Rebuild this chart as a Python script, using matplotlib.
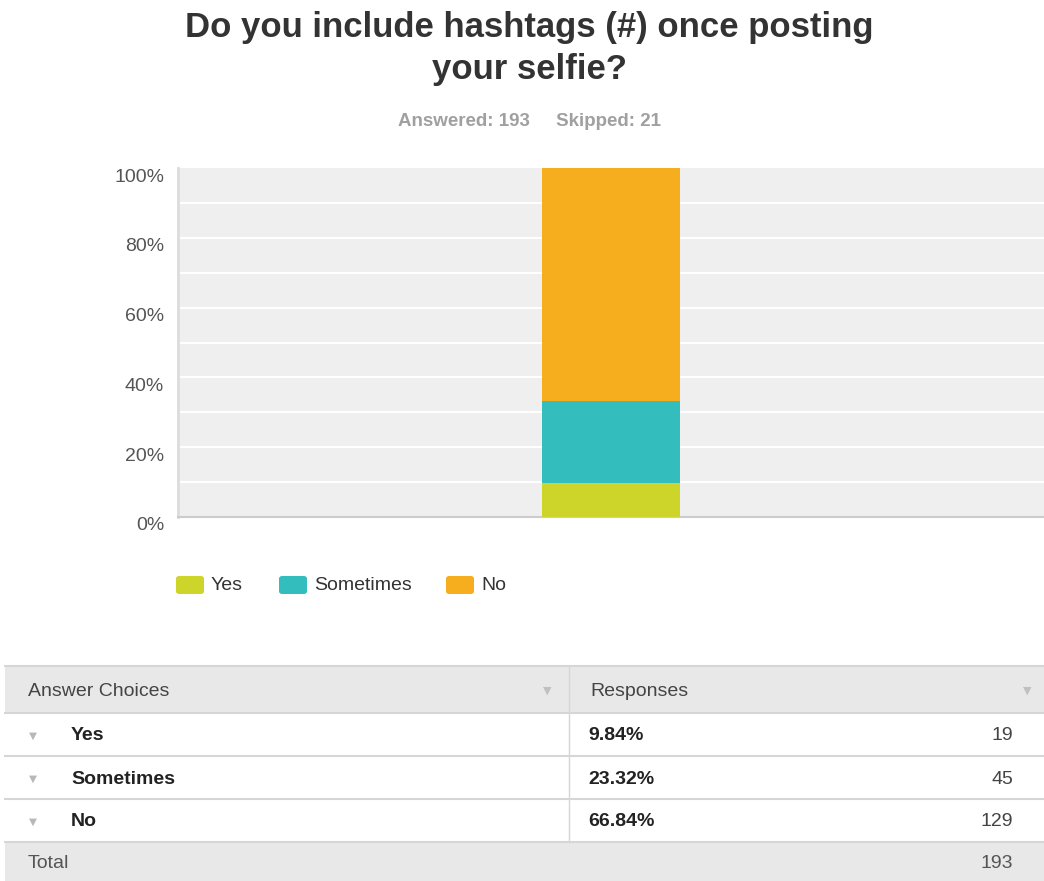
import numpy as np
import matplotlib
matplotlib.use("Agg")
import matplotlib.pyplot as plt
import matplotlib.transforms as mtransforms
from matplotlib.patches import Rectangle, FancyBboxPatch

# Survey results
choices = ["Yes", "Sometimes", "No"]
percents = [9.84, 23.32, 66.84]
counts = [19, 45, 129]
answered = 193
skipped = 21
colors = ["#cdd42a", "#33bdbd", "#f6ae1f"]
yticks = [0, 20, 40, 60, 80, 100]

W, H = 1044, 881
plt.rcParams['font.family'] = ['Liberation Sans', 'DejaVu Sans']
fig = plt.figure(figsize=(W / 100, H / 100), dpi=100)


def fx(x):
    return x / W


def fy(y):
    return 1 - y / H


# Title and summary
fig.text(fx(529), fy(27), "Do you include hashtags (#) once posting", ha="center", va="center",
         fontsize=25, fontweight="bold", color="#333333")
fig.text(fx(529), fy(70), "your selfie?", ha="center", va="center",
         fontsize=25, fontweight="bold", color="#333333")
fig.text(fx(529), fy(122), f"Answered: {answered}     Skipped: {skipped}", ha="center", va="center",
         fontsize=13.5, fontweight="bold", color="#a0a0a0")

# Stacked bar chart
ax = fig.add_axes([fx(178), fy(517), fx(1044) - fx(178), fy(168) - fy(517)])
ax.set_facecolor("#efefef")
bottom = 0
for p, c in zip(percents, colors):
    ax.bar(0.5, p, width=0.16, bottom=bottom, color=c, zorder=3)
    bottom += p
ax.set_xlim(0, 1)
ax.set_ylim(0, 100)
for g in np.arange(10, 100, 10):
    ax.axhline(g, color="white", lw=1.5, zorder=1)
ax.set_yticks(yticks)
ax.set_yticklabels([f"{t}%" for t in yticks])
ax.tick_params(axis="y", length=0, pad=10, labelsize=14, labelcolor="#555555")
ax.set_xticks([])
for s in ["top", "right"]:
    ax.spines[s].set_visible(False)
ax.spines["left"].set_color("#dcdcdc")
ax.spines["left"].set_linewidth(2)
ax.spines["bottom"].set_color("#cccccc")
ax.spines["bottom"].set_linewidth(1.5)
# tick labels sit a little below their gridlines
shift = mtransforms.ScaledTranslation(0, -7 / 100, fig.dpi_scale_trans)
for lbl in ax.get_yticklabels():
    lbl.set_transform(lbl.get_transform() + shift)

# Legend
leg_x = [175, 278, 445]
for x0, name, c in zip(leg_x, choices, colors):
    fig.patches.append(FancyBboxPatch((fx(x0 + 1), fy(594)), fx(28), fy(576) - fy(594),
                                      boxstyle="round,pad=0,rounding_size=0.003",
                                      transform=fig.transFigure, facecolor=c, edgecolor="none"))
    fig.text(fx(x0 + 36), fy(586), name, ha="left", va="center", fontsize=14, color="#333333")

# Table
left, mid, right = 5, 569, 1044
rows = [666, 713, 756, 799, 842, 881]


def rect(y0, y1, fc):
    fig.patches.append(Rectangle((fx(left), fy(y1)), fx(right) - fx(left), fy(y0) - fy(y1),
                                 transform=fig.transFigure, facecolor=fc, edgecolor="none"))


def hline(y, c="#d6d6d6", lw=1.5):
    fig.add_artist(plt.Line2D([fx(left), fx(right)], [fy(y), fy(y)], color=c, lw=lw))


rect(rows[0], rows[1], "#e8e8e8")
rect(rows[4], rows[5], "#e8e8e8")
for y in rows[:5]:
    hline(y)
fig.add_artist(plt.Line2D([fx(mid), fx(mid)], [fy(rows[0]), fy(rows[4])], color="#d6d6d6", lw=1))

fs = 14
fig.text(fx(28), fy(692), "Answer Choices", ha="left", va="center", fontsize=fs, color="#444444")
fig.text(fx(590), fy(692), "Responses", ha="left", va="center", fontsize=fs, color="#444444")
fig.text(fx(547), fy(691), "▼", ha="center", va="center", fontsize=8, color="#c0c0c0",
         family=["DejaVu Sans"])
fig.text(fx(1027), fy(691), "▼", ha="center", va="center", fontsize=8, color="#c0c0c0",
         family=["DejaVu Sans"])

for i, (name, p, n) in enumerate(zip(choices, percents, counts)):
    yc = (rows[i + 1] + rows[i + 2]) / 2 + 1.5
    fig.text(fx(33), fy(yc), "▼", ha="center", va="center", fontsize=7.5, color="#b8b8b8",
             family=["DejaVu Sans"])
    fig.text(fx(71), fy(yc), name, ha="left", va="center", fontsize=fs,
             fontweight="bold", color="#222222")
    fig.text(fx(588), fy(yc), f"{p:.2f}%", ha="left", va="center", fontsize=fs,
             fontweight="bold", color="#222222")
    fig.text(fx(1013), fy(yc), str(n), ha="right", va="center", fontsize=fs, color="#444444")

yc = (rows[4] + rows[5]) / 2 + 1.5
fig.text(fx(28), fy(yc), "Total", ha="left", va="center", fontsize=fs, color="#555555")
fig.text(fx(1013), fy(yc), str(sum(counts)), ha="right", va="center", fontsize=fs, color="#555555")

fig.savefig("out.png", dpi=100, facecolor="white")
